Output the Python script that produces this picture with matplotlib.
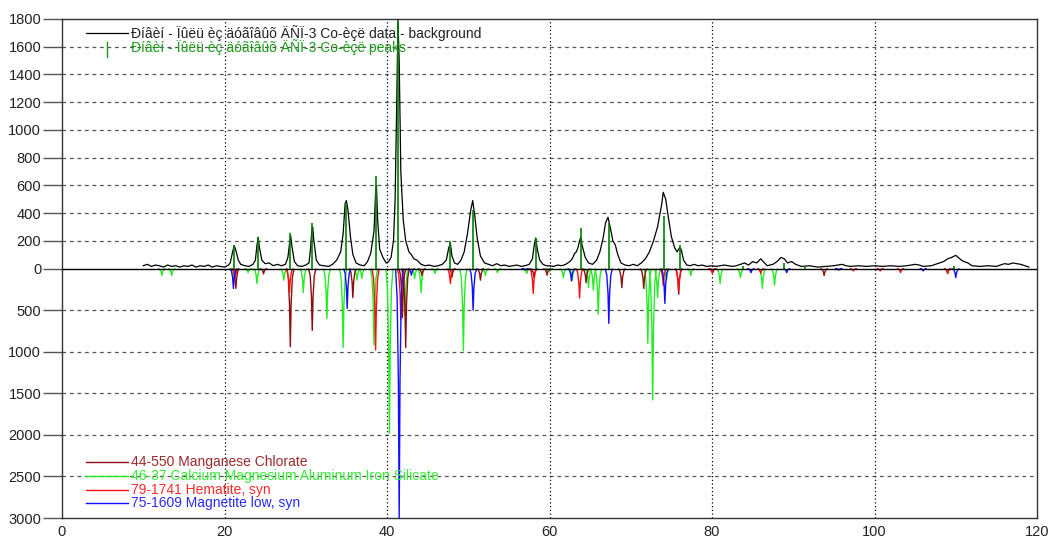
import numpy as np
import matplotlib
matplotlib.use("Agg")
import matplotlib.pyplot as plt
from matplotlib.collections import LineCollection

plt.rcParams['font.family'] = ['Liberation Sans', 'DejaVu Sans']

# ---------------- data ----------------
# observed pattern (data - background): 2theta, intensity
obs_2theta = [10.0, 10.5, 11, 11.5, 12, 12.5, 13, 13.5, 14, 14.5, 15, 15.5, 16, 16.5, 17, 17.5, 18, 18.5, 19, 19.5, 20, 20.5,
              20.7, 21.0, 21.2, 21.4, 21.7, 22.0, 22.5, 23.0, 23.5,
              23.8, 24.0, 24.15, 24.3, 24.6, 25.0, 25.5, 26, 26.5, 27, 27.5,
              27.8, 28.0, 28.15, 28.3, 28.6, 29.0, 29.5, 30, 30.4,
              30.6, 30.75, 30.85, 31.0, 31.3, 31.7, 32.2, 32.8, 33.3, 33.8,
              34.3, 34.6, 34.85, 35.0, 35.2, 35.5, 35.8, 36.2, 36.7, 37.2, 37.6,
              38.0, 38.4, 38.6, 38.7, 38.85, 39.1, 39.5, 39.9, 40.2, 40.5,
              40.8, 41.0, 41.2, 41.35, 41.5, 41.7, 42.0, 42.3, 42.7, 43.0, 43.3, 43.7, 44.2, 44.7, 45.2, 45.8, 46.3, 46.8,
              47.3, 47.6, 47.8, 48.0, 48.3, 48.7, 49.1,
              49.5, 49.9, 50.3, 50.55, 50.8, 51.1, 51.5, 52.0, 52.5, 53, 53.5, 54, 54.5, 55, 55.5, 56, 56.5, 57, 57.5,
              57.9, 58.15, 58.3, 58.5, 58.8, 59.2, 59.6, 60, 60.5, 61, 61.5, 62, 62.5,
              62.8, 63.1, 63.3, 63.5, 63.7, 63.85, 64.0, 64.4, 64.8, 65.3, 65.8,
              66.2, 66.6, 66.9, 67.2, 67.5, 67.8, 68.1, 68.4, 68.8, 69.3, 69.8, 70.3, 70.8, 71.3, 71.8,
              72.3, 72.8, 73.3, 73.8, 74.0, 74.3, 74.6, 75.0, 75.4, 75.7, 76.0, 76.2, 76.5, 76.9, 77.3, 77.8, 78.3, 78.8,
              79.3, 80, 80.5, 81, 81.5, 82, 82.5, 83, 83.5, 84, 84.5, 85, 85.5, 86, 86.3, 86.8, 87.5, 88.0, 88.5, 88.9,
              89.3, 89.8, 90.3, 91, 92, 93, 94, 95, 96, 96.5, 97, 98, 99, 100, 101, 102, 103, 104, 105, 105.5, 106,
              107, 107.5, 108, 108.5, 109, 109.5, 110.0, 110.3, 110.7, 111, 111.5, 112, 113, 114, 115, 116, 116.5,
              117, 117.5, 118, 118.5, 119]
obs_int = [20, 30, 15, 25, 20, 10, 25, 15, 20, 10, 20, 15, 25, 10, 20, 15, 25, 10, 20, 15, 10, 25,
           40, 120, 165, 130, 60, 30, 20, 15, 30,
           60, 170, 225, 150, 60, 35, 40, 20, 30, 20, 30,
           80, 180, 235, 160, 50, 20, 15, 25, 40,
           150, 280, 300, 200, 60, 25, 20, 15, 30, 60,
           120, 250, 470, 490, 420, 230, 100, 40, 25, 20, 50,
           110, 270, 550, 600, 350, 140, 80, 40, 50, 80,
           200, 500, 1200, 1790, 1500, 700, 350, 200, 120, 100, 70, 60, 30, 20, 25, 15, 20, 30,
           60, 150, 180, 90, 40, 30, 60,
           120, 250, 420, 490, 380, 220, 90, 40, 30, 20, 35, 20, 25, 15, 20, 25, 15, 20, 30,
           70, 180, 220, 140, 60, 30, 20, 20, 15, 25, 20, 30, 50,
           70, 110, 120, 150, 200, 225, 170, 80, 40, 30, 60,
           120, 220, 330, 370, 290, 200, 170, 100, 40, 25, 20, 30, 20, 40, 70,
           120, 200, 300, 460, 550, 500, 380, 230, 150, 120, 150, 140, 60, 25, 20, 30, 20, 25,
           15, 20, 15, 20, 25, 20, 15, 20, 30, 40, 25, 50, 40, 70, 50, 20, 30, 50, 80, 70,
           40, 50, 30, 15, 20, 10, 15, 20, 30, 20, 15, 20, 15, 20, 15, 20, 15, 20, 30, 25, 15,
           20, 30, 40, 50, 70, 80, 95, 80, 60, 50, 40, 20, 15, 20, 15, 35, 30,
           40, 35, 30, 20, 10]

# identified peaks (sticks)
peak_2theta = [21.2, 24.15, 28.1, 30.8, 35.0, 38.7, 41.35, 47.8, 50.6, 58.3, 63.9, 67.3, 74.1, 76.0,
               83.8, 88.9, 91.5, 109.8]
peak_int = [170, 225, 255, 330, 470, 670, 1780, 195, 420, 220, 290, 330, 380, 170,
            20, 40, 15, 20]

# reference patterns (drawn downward)
mncl_2theta = [21.4, 24.8, 28.1, 30.8, 35.8, 41.9, 42.3, 44.3, 48.0, 51.5, 58.1, 59.7, 64.5, 68.9,
               71.6, 75.9, 80.1, 93.8, 109.0]
mncl_int = [240, 65, 940, 745, 350, 590, 950, 85, 105, 140, 110, 80, 170, 230,
            240, 310, 50, 85, 60]

sil_2theta = [12.3, 13.5, 21.1, 22.9, 24.0, 27.3, 29.7, 32.6, 34.6, 36.3, 36.9, 38.4, 40.3, 42.2, 43.4,
              44.2, 45.9, 49.4, 52.1, 53.6, 57.2, 60.0, 61.7, 62.8, 64.8, 65.4, 66.0, 72.1, 72.7,
              73.3, 74.4, 77.4, 81.0, 83.5, 86.2, 87.7]
sil_int = [85, 85, 180, 50, 180, 140, 290, 600, 950, 140, 120, 920, 1980, 560, 120,
           290, 60, 990, 85, 50, 60, 40, 110, 140, 230, 260, 550, 900, 1580,
           350, 140, 85, 180, 110, 240, 200]

hem_2theta = [21.3, 28.0, 38.6, 41.7, 47.8, 58.0, 63.7, 74.0, 75.9, 80.0, 86.0, 97.4, 100.7, 103.2, 109.0]
hem_int = [150, 290, 980, 620, 180, 300, 355, 205, 265, 50, 60, 30, 30, 50, 60]

mag_2theta = [21.1, 35.1, 41.5, 43.0, 50.6, 57.0, 62.7, 67.3, 74.2, 84.8, 89.2, 95.6, 106.0, 110.0]
mag_int = [240, 480, 3000, 80, 500, 20, 150, 660, 420, 50, 50, 20, 30, 110]

top_ticks = [0, 200, 400, 600, 800, 1000, 1200, 1400, 1600, 1800]
bottom_ticks = [500, 1000, 1500, 2000, 2500, 3000]
x_ticks = [0, 20, 40, 60, 80, 100, 120]

sample_label = "Ðíâèí - Ïûëü èç äóãîâûõ ÄÑÏ-3 Co-èçë"
phase_labels = ["44-550 Manganese Chlorate",
                "46-37 Calcium Magnesium Aluminum Iron Silicate",
                "79-1741 Hematite, syn",
                "75-1609 Magnetite low, syn"]

# ---------------- drawing ----------------
BOT_SCALE = 1800.0 / 3000.0   # lower (reference) panel scale

fig = plt.figure(figsize=(10.5, 5.41), dpi=100)
ax = fig.add_axes([62 / 1050, 1 - 518 / 541, 975 / 1050, 499 / 541])
ax.set_xlim(0, 120)
ax.set_ylim(-3000 * BOT_SCALE, 1800)

# grid
for v in top_ticks[1:-1]:
    ax.axhline(v, color='#555555', lw=0.9, ls=(0, (3, 3)), zorder=0)
for v in bottom_ticks[:-1]:
    ax.axhline(-v * BOT_SCALE, color='#555555', lw=0.9, ls=(0, (3, 3)), zorder=0)
for v in x_ticks[1:-1]:
    ax.axvline(v, color='#000000', lw=0.9, ls=(0, (1, 2)), zorder=0)

shape_dx = np.array([-0.45, -0.25, -0.1, 0.0, 0.1, 0.25, 0.45])
shape_fy = np.array([0.0, 0.12, 0.45, 1.0, 0.45, 0.12, 0.0])


def draw_phase(pos, inten, color, z):
    segs = []
    for p, i in zip(pos, inten):
        segs.append(np.column_stack([p + shape_dx, -i * BOT_SCALE * shape_fy]))
    ax.add_collection(LineCollection(segs, colors=color, linewidths=1.0, zorder=z))


phase_colors = ['#8b1010', '#22ee22', '#ff1010', '#1010ff']
draw_phase(sil_2theta, sil_int, phase_colors[1], 2)
draw_phase(mncl_2theta, mncl_int, phase_colors[0], 3)
draw_phase(hem_2theta, hem_int, phase_colors[2], 4)
draw_phase(mag_2theta, mag_int, phase_colors[3], 5)

ax.axhline(0, color='black', lw=1.0, zorder=6)
ax.plot(obs_2theta, obs_int, color='black', lw=0.9, zorder=7)
ax.vlines(peak_2theta, 0, peak_int, color='#008000', lw=1.2, zorder=8)

# axes styling
for s in ax.spines.values():
    s.set_color('#333333')
    s.set_linewidth(1.0)
ax.set_yticks([v for v in top_ticks] + [-v * BOT_SCALE for v in bottom_ticks])
ax.set_yticklabels([str(v) for v in top_ticks] + [str(v) for v in bottom_ticks])
ax.set_xticks(x_ticks)
ax.set_xticklabels([str(v) for v in x_ticks])
ax.tick_params(axis='y', direction='out', length=14, width=1.0, color='#555555',
               pad=1, labelsize=10.5, labelcolor='#222222')
ax.tick_params(axis='x', direction='out', length=0, pad=5, labelsize=10.5, labelcolor='#222222')


def fx(px):
    return (px - 62) / 975.0


def fy(py):
    return (518 - py) / 499.0


# top legend
ax.plot([fx(86), fx(128)], [fy(33), fy(33)], transform=ax.transAxes, color='black', lw=0.9,
        clip_on=False, zorder=9)
ax.text(fx(131), fy(33), sample_label + " data - background", transform=ax.transAxes,
        fontsize=10, color='#222222', va='center', ha='left', zorder=9)
ax.plot([fx(107), fx(107)], [fy(42), fy(57)], transform=ax.transAxes, color='#1a9a1a', lw=1.0,
        clip_on=False, zorder=9)
ax.text(fx(131), fy(47.5), sample_label + " peaks", transform=ax.transAxes,
        fontsize=10, color='#1a9a1a', va='center', ha='left', zorder=9)

# bottom legend
text_colors = ['#9b2a2a', '#33ee33', '#ff2a2a', '#2a2aff']
for k, (lab, lc, tc) in enumerate(zip(phase_labels, phase_colors, text_colors)):
    py = 462 + k * 13.8
    ax.plot([fx(86), fx(128)], [fy(py), fy(py)], transform=ax.transAxes, color=lc, lw=1.0,
            clip_on=False, zorder=9)
    ax.text(fx(131), fy(py), lab, transform=ax.transAxes, fontsize=10, color=tc,
            va='center', ha='left', zorder=9)

fig.savefig('out.png', dpi=100)
